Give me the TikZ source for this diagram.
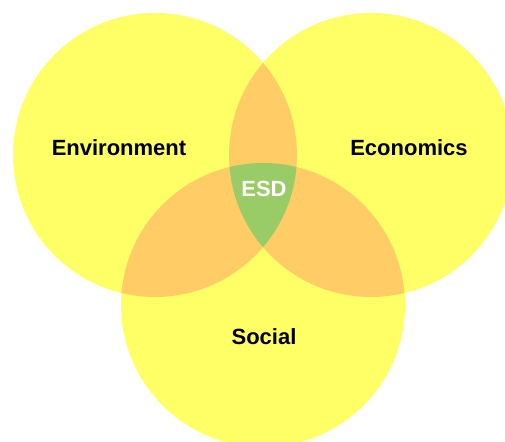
\documentclass[tikz,border=0pt]{standalone}
\usepackage{fontspec}
\setsansfont{Liberation Sans}
\usetikzlibrary{positioning}

\begin{document}
\begin{tikzpicture}[x=1pt, y=1pt, font=\sffamily\bfseries\fontsize{22}{26}\selectfont]
\definecolor{vennyellow}{HTML}{FFFF66}
\definecolor{vennorange}{HTML}{FFCC66}
\definecolor{venngreen}{HTML}{99CC66}
\useasboundingbox (0,0) rectangle (505,441);
\clip (0,0) rectangle (505,441);
\fill[white] (0,0) rectangle (505,441);
\coordinate (env) at (155,286);
\coordinate (eco) at (371,286);
\coordinate (soc) at (263,136);
\foreach \c in {env,eco,soc}{\fill[vennyellow] (\c) circle (142pt);}
\foreach \a/\b in {env/eco,env/soc,eco/soc}{
\begin{scope}
\clip (\a) circle (142pt);
\fill[vennorange] (\b) circle (142pt);
\end{scope}}
\begin{scope}
\clip (env) circle (142pt); \clip (eco) circle (142pt);
\fill[venngreen] (soc) circle (142pt);
\end{scope}
\node (envlabel) at (119,293) {Environment};
\node (ecolabel) at (409,293) {Economics};
\node (soclabel) at (264,104) {Social};
\node[text=white] (esdlabel) at (264,252) {ESD};
\end{tikzpicture}
\end{document}
